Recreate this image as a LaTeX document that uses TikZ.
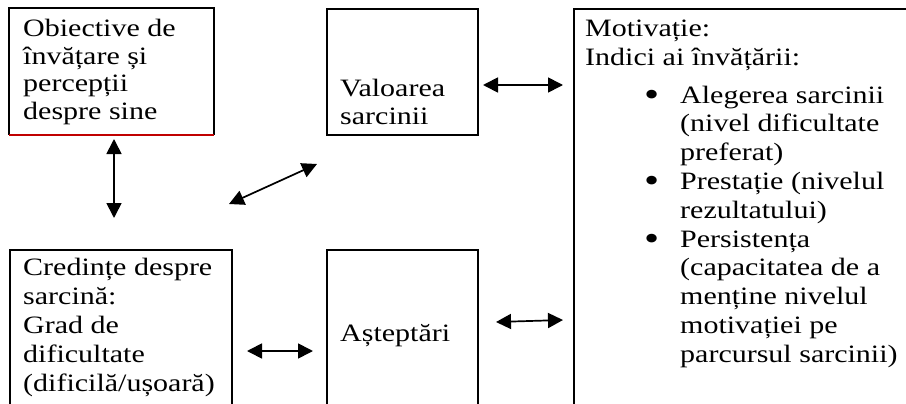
\documentclass[tikz,border=0pt]{standalone}
\usepackage{fontspec}
\setmainfont{Liberation Serif}[FakeStretch=1.2]
\usetikzlibrary{arrows.meta}
\definecolor{redline}{RGB}{192,0,0}
\newcommand{\mybul}{\hspace*{59pt}\makebox[36pt][l]{\fontsize{36}{29}\selectfont\raisebox{-3pt}{•}}}
\newcommand{\myind}{\hspace*{95pt}}
\tikzset{
  boxnode/.style={draw=black, line width=1.8pt, anchor=north west, inner sep=0pt, rectangle},
  txt/.style={anchor=base west, inner sep=0pt, font=\fontsize{25}{29}\selectfont},
  dblarrow/.style={line width=1.7pt, {Triangle[length=15pt,width=15pt]}-{Triangle[length=15pt,width=15pt]}}
}
\begin{document}
\begin{tikzpicture}[x=1pt,y=-1pt]
\useasboundingbox (0,0) rectangle (906,404);
\fill[white] (0,0) rectangle (906,404);
\clip (0,0) rectangle (906,404);
% boxes
\node[boxnode, draw=none, minimum width=203pt, minimum height=125pt] (b1) at (9,8) {};
\draw[line width=1.8pt] (b1.south west) -- (b1.north west) -- (b1.north east) -- (b1.south east);
\draw[line width=1.8pt, redline] (b1.south west) -- (b1.south east);
\node[boxnode, minimum width=151pt, minimum height=126pt] (b2) at (326,8) {};
\node[boxnode, minimum width=400pt, minimum height=450pt] (b3) at (573,8) {};
\node[boxnode, minimum width=222pt, minimum height=200pt] (b4) at (9,249) {};
\node[boxnode, minimum width=151pt, minimum height=200pt] (b5) at (326,249) {};
% texts
\node[txt] (t1) at (23,37) {\parbox[t]{190pt}{\baselineskip=27.5pt Obiective de\\învățare și\\percepții\\despre sine}};
\node[txt] (t2) at (340,96) {\parbox[t]{140pt}{\baselineskip=28.4pt Valoarea\\sarcinii}};
\node[txt] (t3) at (585,37) {\parbox[t]{330pt}{\baselineskip=28.8pt Motivație:\\Indici ai învățării:\\[8.6pt]
\mybul Alegerea sarcinii\\
\myind (nivel dificultate\\
\myind preferat)\\
\mybul Prestație (nivelul\\
\myind rezultatului)\\
\mybul Persistența\\
\myind (capacitatea de a\\
\myind menține nivelul\\
\myind motivației pe\\
\myind parcursul sarcinii)}};
\node[txt] (t4) at (23,275) {\parbox[t]{210pt}{\baselineskip=29.2pt Credințe despre\\sarcină:\\Grad de\\dificultate\\(dificilă/ușoară)}};
\node[txt] (t5) at (340,341) {Așteptări};
% arrows
\coordinate (a1s) at (114,139);
\coordinate (a1e) at (114,218);
\coordinate (a2s) at (229,204);
\coordinate (a2e) at (317,164);
\coordinate (a3s) at (483,85);
\coordinate (a3e) at (563,85);
\coordinate (a4s) at (247,351);
\coordinate (a4e) at (313,351);
\coordinate (a5s) at (496,322);
\coordinate (a5e) at (563,320);
\draw[dblarrow] (a1s) -- (a1e);
\draw[dblarrow] (a2s) -- (a2e);
\draw[dblarrow] (a3s) -- (a3e);
\draw[dblarrow] (a4s) -- (a4e);
\draw[dblarrow] (a5s) -- (a5e);
\end{tikzpicture}
\end{document}
